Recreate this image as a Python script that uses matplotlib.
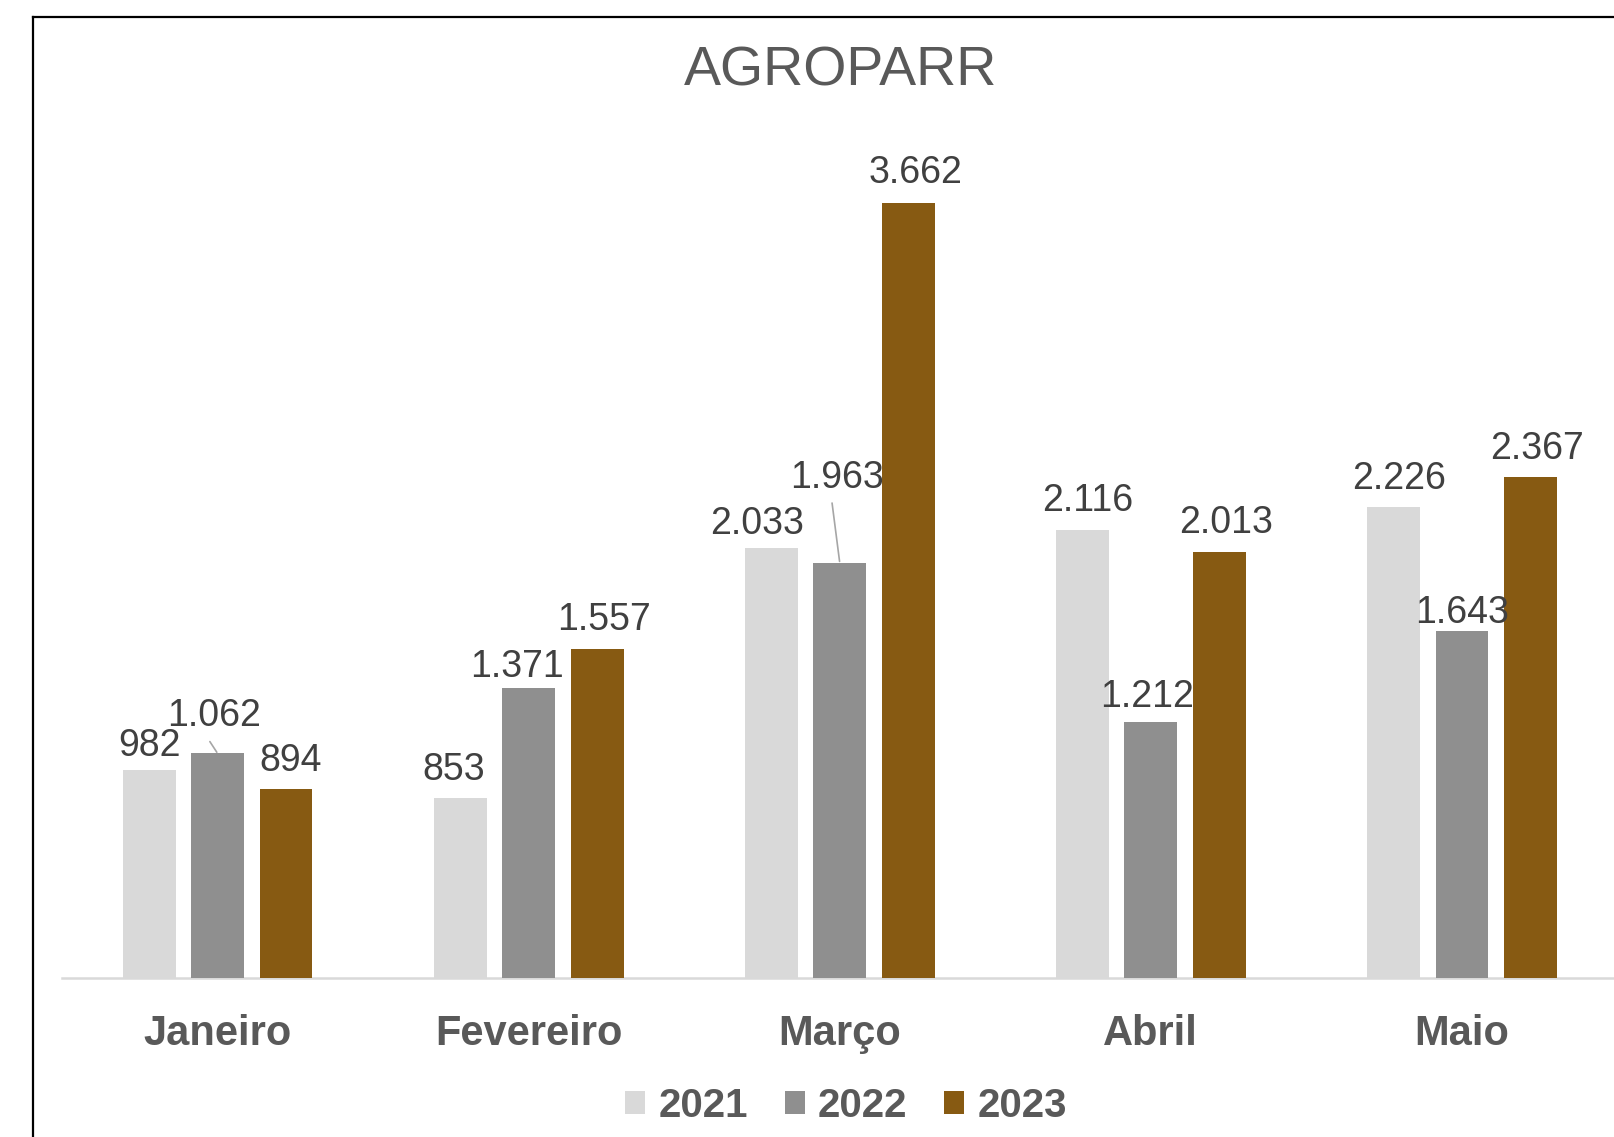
import numpy as np
import matplotlib
matplotlib.use("Agg")
import matplotlib.pyplot as plt
from matplotlib.patches import Patch
from matplotlib.lines import Line2D

plt.rcParams['font.family'] = ['Liberation Sans', 'DejaVu Sans']

meses = ['Janeiro', 'Fevereiro', 'Março', 'Abril', 'Maio']
anos = ['2021', '2022', '2023']
v2021 = [982, 853, 2033, 2116, 2226]
v2022 = [1062, 1371, 1963, 1212, 1643]
v2023 = [894, 1557, 3662, 2013, 2367]

cores = ['#D9D9D9', '#8F8F8F', '#875A12']
cor_texto = '#595959'
cor_rotulo = '#404040'

# deslocamento dos rotulos (px): dx, distancia acima da barra
desloc = [
    [(0, 14), (-7, 18), (-14, 14), (5, 19), (6, 18)],
    [(-3, 27), (-12, 11), (-3, 75), (-4, 15), (0, 8)],
    [(5, 18), (7, 19), (7, 20), (7, 19), (7, 18)],
]

W, H = 1614, 1137
fig = plt.figure(figsize=(W / 100, H / 100), dpi=100)
ax = fig.add_axes([62 / W, (H - 978) / H, 1555.5 / W, (978 - 132) / H])

x = np.arange(len(meses))
largura = 0.17
passo = 0.22
series = [v2021, v2022, v2023]
for i, vals in enumerate(series):
    pos = x + (i - 1) * passo
    ax.bar(pos, vals, largura, color=cores[i], zorder=2)
    for j, v in enumerate(vals):
        dx, dy = desloc[i][j]
        txt = f'{v:,}'.replace(',', '.')
        if dy > 25:
            ax.annotate(txt, xy=(pos[j], v), xytext=(dx * 0.72, dy * 0.72),
                        textcoords='offset points', ha='center', va='baseline',
                        fontsize=27, color=cor_rotulo,
                        arrowprops=dict(arrowstyle='-', color='#A6A6A6', lw=1.2,
                                        shrinkA=0, shrinkB=1,
                                        relpos=(0.45, -0.2)))
        else:
            ax.annotate(txt, xy=(pos[j], v), xytext=(dx * 0.72, dy * 0.72),
                        textcoords='offset points', ha='center', va='baseline',
                        fontsize=27, color=cor_rotulo)

ax.set_xlim(-0.5, 4.5)
ax.set_ylim(0, 4000)
ax.set_yticks([])
ax.set_xticks(x)
ax.set_xticklabels(meses, fontsize=30, fontweight='bold', color=cor_texto)
ax.tick_params(axis='x', length=0, pad=26)
for s in ['top', 'right', 'left']:
    ax.spines[s].set_visible(False)
ax.spines['bottom'].set_color('#D9D9D9')
ax.spines['bottom'].set_linewidth(1.8)
ax.spines['bottom'].set_zorder(1)

fig.text(841 / W, 1 - 71 / H, 'AGROPARR', ha='center', va='center',
         fontsize=40, color=cor_texto)

handles = [Patch(facecolor=c, edgecolor='none') for c in cores]
fig.legend(handles, anos, loc='center', bbox_to_anchor=(846 / W, 1 - 1106 / H),
           ncol=3, frameon=False, handlelength=0.5, handleheight=0.5,
           handletextpad=0.33, columnspacing=0.9,
           prop={'size': 29, 'weight': 'bold'}, labelcolor=cor_texto)

# moldura do grafico
fig.add_artist(Line2D([33 / W, 33 / W], [0, 1 - 17 / H], color='black', lw=1.6))
fig.add_artist(Line2D([33 / W, 1], [1 - 17 / H, 1 - 17 / H], color='black', lw=1.6))

fig.savefig('out.png', dpi=100)
